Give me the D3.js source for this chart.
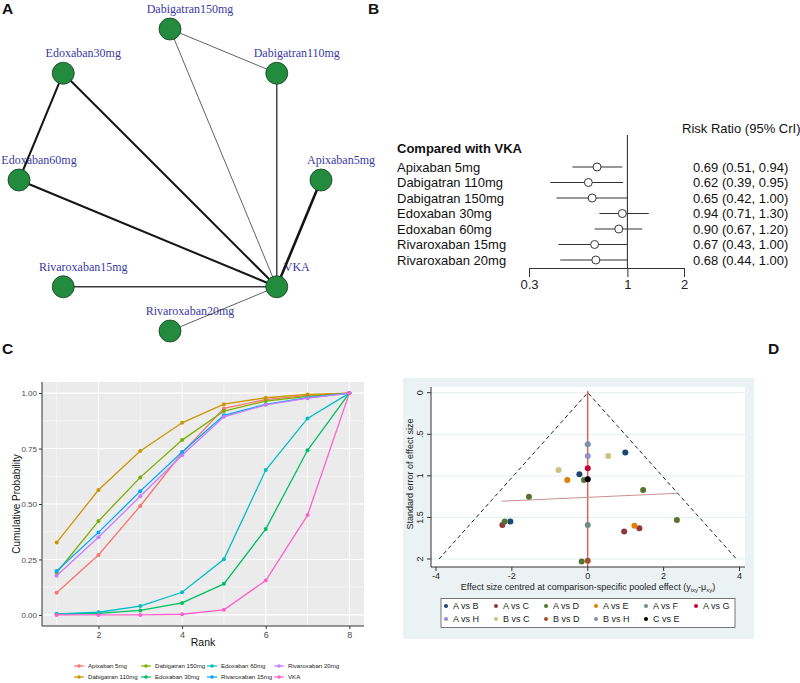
<!DOCTYPE html>
<html><head><meta charset="utf-8">
<script src="https://cdn.jsdelivr.net/npm/d3@7"></script>
<style>body{margin:0;background:#fff} svg{display:block}</style>
</head><body>
<svg id="c" width="800" height="683" font-family="Liberation Sans, Arial, sans-serif"></svg>
<script>
// ---------- Panel A: network ----------
const netNodes = ["Dabigatran150mg","Dabigatran110mg","Apixaban5mg","VKA","Rivaroxaban20mg","Rivaroxaban15mg","Edoxaban60mg","Edoxaban30mg"];
const netEdgeFrom = ["Dabigatran150mg","Dabigatran150mg","Dabigatran110mg","Edoxaban30mg","Edoxaban30mg","Edoxaban60mg","Apixaban5mg","Rivaroxaban15mg","Rivaroxaban20mg"];
const netEdgeTo   = ["Dabigatran110mg","VKA","VKA","Edoxaban60mg","VKA","VKA","VKA","VKA","VKA"];
const netEdgeStudies = [1,1,2,3,3,3,4,2,1];

// ---------- Panel B: forest ----------
const forestLabels = ["Apixaban 5mg","Dabigatran 110mg","Dabigatran 150mg","Edoxaban 30mg","Edoxaban 60mg","Rivaroxaban 15mg","Rivaroxaban 20mg"];
const forestEst  = [0.69,0.62,0.65,0.94,0.90,0.67,0.68];
const forestLow  = [0.51,0.39,0.42,0.71,0.67,0.43,0.44];
const forestHigh = [0.94,0.95,1.00,1.30,1.20,1.00,1.00];
const forestTicks = [0.3,1,2];

// ---------- Panel C: cumulative rank probabilities ----------
const ranks = [1,2,3,4,5,6,7,8];
const rankSeries = ["Apixaban 5mg","Dabigatran 110mg","Dabigatran 150mg","Edoxaban 30mg","Edoxaban 60mg","Rivaroxaban 15mg","Rivaroxaban 20mg","VKA"];
const apixaban5     = [0.100,0.270,0.491,0.730,0.931,0.971,0.990,1];
const dabigatran110 = [0.326,0.563,0.739,0.866,0.950,0.979,0.994,1];
const dabigatran150 = [0.190,0.423,0.620,0.788,0.919,0.964,0.985,1];
const edoxaban30    = [0.003,0.007,0.020,0.054,0.140,0.387,0.742,1];
const edoxaban60    = [0.005,0.012,0.040,0.102,0.251,0.653,0.886,1];
const rivaroxaban15 = [0.198,0.372,0.558,0.734,0.900,0.949,0.979,1];
const rivaroxaban20 = [0.177,0.350,0.535,0.720,0.893,0.947,0.977,1];
const vka           = [0.000,0.000,0.000,0.003,0.023,0.155,0.450,1];
const rankValues = [apixaban5,dabigatran110,dabigatran150,edoxaban30,edoxaban60,rivaroxaban15,rivaroxaban20,vka];
const rankYTicks = [0,0.25,0.5,0.75,1];
const rankXTicks = [2,4,6,8];

// ---------- Panel D: comparison-adjusted funnel ----------
const funnelGroups = ["A vs B","A vs C","A vs D","A vs E","A vs F","A vs G","A vs H","B vs C","B vs D","B vs H","C vs E"];
const funnelEffect = [-0.22,-2.04,0.99, -2.25,1.36,0.96, -0.10,-1.55,-2.19,-0.16,1.46,2.35, -0.54,1.23, 0.00, 0.00, 0.00, 0.54,-0.77, 0.00, 0.00, 0.00];
const funnelSE     = [ 0.98, 1.55,0.72,  1.59,1.63,1.67,  1.05, 1.25, 1.55, 2.03,1.17,1.53,  1.05,1.60, 1.59, 0.91, 0.76, 0.76, 0.93, 2.02, 0.62, 1.04];
const funnelGroupIdx = [0,0,0, 1,1,1, 2,2,2,2,2,2, 3,3, 4, 5, 6, 7,7, 8, 9, 10];
const funnelRegEffect = [-2.27, 2.36];
const funnelRegSE = [1.305, 1.21];
const funnelXTicks = [-4,-2,0,2,4];
const funnelYTicks = [0,0.5,1,1.5,2];
const funnelYTickLabels = ["0",".5","1","1.5","2"];

const svg = d3.select("#c");

// Panel letters
[["A",2,14],["B",368,14],["C",2,354],["D",768,354]].forEach(([t,x,y])=>{
  svg.append("text").attr("x",x).attr("y",y).attr("font-size",15.5).attr("font-weight","bold").attr("fill","#111").text(t);
});

// ===== Panel A =====
(function(){
  const g = svg.append("g");
  const ang = d3.scalePoint().domain(netNodes).range([0, 2*Math.PI*7/8]);
  const cx=170, cy=180, R=151;
  const pos = n => [cx + R*Math.cos(ang(n)-Math.PI/2), cy + R*Math.sin(ang(n)-Math.PI/2)];
  const w = d3.scaleLinear().domain([1,4]).range([0.8,2.6]);
  g.selectAll("text.lab").data(netNodes).join("text")
    .attr("x",d=>pos(d)[0]+20).attr("y",d=>pos(d)[1]-20).attr("dy","0.35em")
    .attr("text-anchor","middle").attr("font-family","Liberation Serif, Times New Roman, serif")
    .attr("font-size",12).attr("fill","#3a3aa4").text(d=>d);
  g.selectAll("line").data(d3.range(netEdgeFrom.length)).join("line")
    .attr("x1",i=>pos(netEdgeFrom[i])[0]).attr("y1",i=>pos(netEdgeFrom[i])[1])
    .attr("x2",i=>pos(netEdgeTo[i])[0]).attr("y2",i=>pos(netEdgeTo[i])[1])
    .attr("stroke",i=>netEdgeStudies[i]>=3?"#151515":"#3a3a3a").attr("stroke-width",i=>w(netEdgeStudies[i]));
  g.selectAll("circle").data(netNodes).join("circle")
    .attr("cx",d=>pos(d)[0]).attr("cy",d=>pos(d)[1]).attr("r",11)
    .attr("fill","#228b3e").attr("stroke","#163d1f").attr("stroke-width",0.8);
})();

// ===== Panel B =====
(function(){
  const g = svg.append("g");
  const x = d3.scaleLog().domain([0.3,2]).range([529,684]);
  const y = d3.scalePoint().domain(forestLabels).range([167,260]);
  const fs = 13;
  g.append("text").attr("x",682).attr("y",128).attr("dy","0.35em").attr("font-size",fs).attr("fill","#111").text("Risk Ratio (95% CrI)");
  g.append("text").attr("x",397).attr("y",148).attr("dy","0.35em").attr("font-size",fs).attr("font-weight","bold").attr("fill","#111").text("Compared with VKA");
  g.append("line").attr("x1",x(1)).attr("x2",x(1)).attr("y1",135).attr("y2",268).attr("stroke","#222").attr("stroke-width",1);
  const ax = g.append("g").attr("transform","translate(0,268)")
    .call(d3.axisBottom(x).tickValues(forestTicks).tickFormat(d=>String(d)).tickSize(9).tickSizeOuter(0));
  ax.attr("font-family",null).attr("font-size",null);
  ax.selectAll("path,line").attr("stroke","#333");
  ax.selectAll("text").attr("font-size",fs).attr("fill","#222");
  const idx = d3.range(forestLabels.length);
  g.selectAll("line.ci").data(idx).join("line").attr("class","ci")
    .attr("x1",i=>x(forestLow[i])).attr("x2",i=>x(forestHigh[i]))
    .attr("y1",i=>y(forestLabels[i])).attr("y2",i=>y(forestLabels[i]))
    .attr("stroke","#333").attr("stroke-width",1);
  g.selectAll("circle").data(idx).join("circle")
    .attr("cx",i=>x(forestEst[i])).attr("cy",i=>y(forestLabels[i])).attr("r",4)
    .attr("fill","#fff").attr("stroke","#333").attr("stroke-width",1);
  g.selectAll("text.lab").data(idx).join("text").attr("class","lab")
    .attr("x",397).attr("y",i=>y(forestLabels[i])).attr("dy","0.35em").attr("font-size",fs).attr("fill","#111")
    .text(i=>forestLabels[i]);
  const f = d3.format(".2f");
  g.selectAll("text.val").data(idx).join("text").attr("class","val")
    .attr("x",693).attr("y",i=>y(forestLabels[i])).attr("dy","0.35em").attr("font-size",fs).attr("fill","#111")
    .text(i=>`${f(forestEst[i])} (${f(forestLow[i])}, ${f(forestHigh[i])})`);
})();

// ===== Panel C =====
(function(){
  const g = svg.append("g");
  const L=42, R=364, T=382, B=626;
  const x = d3.scaleLinear().domain([0.65,8.35]).range([L,R]);
  const y = d3.scaleLinear().domain([-0.05,1.05]).range([B,T]);
  const cols = ["#F8766D","#CD9600","#7CAE00","#00BE67","#00BFC4","#00A9FF","#C77CFF","#FF61CC"];
  g.append("rect").attr("x",L).attr("y",T).attr("width",R-L).attr("height",B-T).attr("fill","#EBEBEB");
  [0.125,0.375,0.625,0.875].forEach(v=>g.append("line").attr("x1",L).attr("x2",R).attr("y1",y(v)).attr("y2",y(v)).attr("stroke","#fff").attr("stroke-width",0.5));
  [1,3,5,7].forEach(v=>g.append("line").attr("y1",T).attr("y2",B).attr("x1",x(v)).attr("x2",x(v)).attr("stroke","#fff").attr("stroke-width",0.5));
  rankYTicks.forEach(v=>g.append("line").attr("x1",L).attr("x2",R).attr("y1",y(v)).attr("y2",y(v)).attr("stroke","#fff").attr("stroke-width",1.1));
  rankXTicks.forEach(v=>g.append("line").attr("y1",T).attr("y2",B).attr("x1",x(v)).attr("x2",x(v)).attr("stroke","#fff").attr("stroke-width",1.1));
  const line = d3.line().x((d,i)=>x(ranks[i])).y(d=>y(d));
  rankValues.forEach((vals,k)=>{
    g.append("path").attr("d",line(vals)).attr("fill","none").attr("stroke",cols[k]).attr("stroke-width",1.3);
    g.selectAll(null).data(vals).join("circle").attr("cx",(d,i)=>x(ranks[i])).attr("cy",d=>y(d)).attr("r",2).attr("fill",cols[k]);
  });
  const ay = g.append("g").attr("transform",`translate(${L},0)`).call(d3.axisLeft(y).tickValues(rankYTicks).tickFormat(d3.format(".2f")).tickSize(3).tickSizeOuter(0));
  const axx = g.append("g").attr("transform",`translate(0,${B})`).call(d3.axisBottom(x).tickValues(rankXTicks).tickFormat(d3.format("d")).tickSize(3).tickSizeOuter(0));
  [ay,axx].forEach(a=>{a.attr("font-family",null).attr("font-size",null);
    a.selectAll("line").attr("stroke","#333"); a.selectAll("text").attr("font-size",8).attr("fill","#4D4D4D");});
  ay.select(".domain").attr("d",`M0,${B}V${T}`).attr("stroke","#333");
  axx.select(".domain").attr("d",`M${L},0H${R}`).attr("stroke","#333");
  ay.selectAll("text").attr("x",-5);
  axx.selectAll("text").attr("y",6).attr("font-size",9);
  g.append("text").attr("x",(L+R)/2).attr("y",646).attr("text-anchor","middle").attr("font-size",10.5).attr("fill","#111").text("Rank");
  g.append("text").attr("transform",`translate(16,${(T+B)/2}) rotate(-90)`).attr("dy","0.35em").attr("text-anchor","middle").attr("font-size",10).attr("fill","#111").text("Cumulative Probability");
  const colX = [79,146,212,279];
  rankSeries.forEach((s,k)=>{
    const c = Math.floor(k/2), r = k%2;
    const lx = colX[c], ly = r===0?666:677;
    g.append("line").attr("x1",lx-5).attr("x2",lx+5).attr("y1",ly).attr("y2",ly).attr("stroke",cols[k]).attr("stroke-width",1.2);
    g.append("circle").attr("cx",lx).attr("cy",ly).attr("r",1.8).attr("fill",cols[k]);
    g.append("text").attr("x",lx+9).attr("y",ly).attr("dy","0.35em").attr("font-size",6.1).attr("fill","#222").text(s);
  });
})();

// ===== Panel D =====
(function(){
  const g = svg.append("g");
  const cols = ["#1a476f","#90353b","#55752f","#e37e00","#6e8e84","#c10534","#938dd2","#cac27e","#a0522d","#7b92a8","#000000"];
  g.append("rect").attr("x",403).attr("y",378).attr("width",351).attr("height",261).attr("fill","#EAF2F3");
  const PL=431, PR=745, PT=387, PB=567;
  g.append("rect").attr("x",PL).attr("y",PT).attr("width",PR-PL).attr("height",PB-PT).attr("fill","#fff");
  const x = d3.scaleLinear().domain([-4,4]).range([436,739.5]);
  const y = d3.scaleLinear().domain([0,2]).range([392.7,559]);
  funnelYTicks.forEach(v=>g.append("line").attr("x1",PL).attr("x2",PR).attr("y1",y(v)).attr("y2",y(v)).attr("stroke","#e4eef0").attr("stroke-width",1));
  g.append("path").attr("d",`M${x(-1.96*2)},${y(2)}L${x(0)},${y(0)}L${x(1.96*2)},${y(2)}`)
    .attr("fill","none").attr("stroke","#222").attr("stroke-width",1).attr("stroke-dasharray","4,3");
  g.append("line").attr("x1",x(0)).attr("x2",x(0)).attr("y1",PT+4).attr("y2",PB).attr("stroke","#e0403a").attr("stroke-width",1.2);
  g.append("line").attr("x1",x(funnelRegEffect[0])).attr("y1",y(funnelRegSE[0])).attr("x2",x(funnelRegEffect[1])).attr("y2",y(funnelRegSE[1]))
    .attr("stroke","#c99090").attr("stroke-width",1);
  g.selectAll("circle.pt").data(d3.range(funnelEffect.length)).join("circle").attr("class","pt")
    .attr("cx",i=>x(funnelEffect[i])).attr("cy",i=>y(funnelSE[i])).attr("r",3).attr("fill",i=>cols[funnelGroupIdx[i]]);
  g.append("line").attr("x1",PL).attr("x2",PL).attr("y1",PT).attr("y2",PB).attr("stroke","#333");
  g.append("line").attr("x1",PL).attr("x2",PR).attr("y1",PB).attr("y2",PB).attr("stroke","#333");
  funnelYTicks.forEach((v,i)=>{
    g.append("line").attr("x1",PL-4).attr("x2",PL).attr("y1",y(v)).attr("y2",y(v)).attr("stroke","#333");
    g.append("text").attr("transform",`translate(420,${y(v)}) rotate(-90)`).attr("dy","0.35em").attr("text-anchor","middle").attr("font-size",9).attr("fill","#222").text(funnelYTickLabels[i]);
  });
  funnelXTicks.forEach(v=>{
    g.append("line").attr("x1",x(v)).attr("x2",x(v)).attr("y1",PB).attr("y2",PB+4).attr("stroke","#333");
    g.append("text").attr("x",x(v)).attr("y",579).attr("text-anchor","middle").attr("font-size",9).attr("fill","#222").text(v<0?"-"+Math.abs(v):String(v));
  });
  g.append("text").attr("transform",`translate(410,474) rotate(-90)`).attr("dy","0.35em").attr("text-anchor","middle").attr("font-size",9).attr("fill","#222").text("Standard error of effect size");
  const t = g.append("text").attr("x",588).attr("y",590).attr("text-anchor","middle").attr("font-size",9).attr("fill","#222");
  t.append("tspan").text("Effect size centred at comparison-specific pooled effect (y");
  t.append("tspan").attr("font-size",6).attr("dy",2).text("ixy");
  t.append("tspan").attr("dy",-2).text("-μ");
  t.append("tspan").attr("font-size",6).attr("dy",2).text("xy");
  t.append("tspan").attr("dy",-2).text(")");
  g.append("rect").attr("x",441).attr("y",598.5).attr("width",294).attr("height",29).attr("fill","#fff").attr("stroke","#555").attr("stroke-width",0.8);
  const lx = d3.scaleLinear().domain([0,5]).range([446,696]);
  funnelGroups.forEach((s,k)=>{
    const c = k%6, r = Math.floor(k/6);
    const py = r===0?606:619;
    g.append("circle").attr("cx",lx(c)).attr("cy",py).attr("r",2).attr("fill",cols[k]);
    g.append("text").attr("x",lx(c)+7).attr("y",py).attr("dy","0.35em").attr("font-size",9).attr("fill","#222").text(s);
  });
})();
</script>
</body></html>
